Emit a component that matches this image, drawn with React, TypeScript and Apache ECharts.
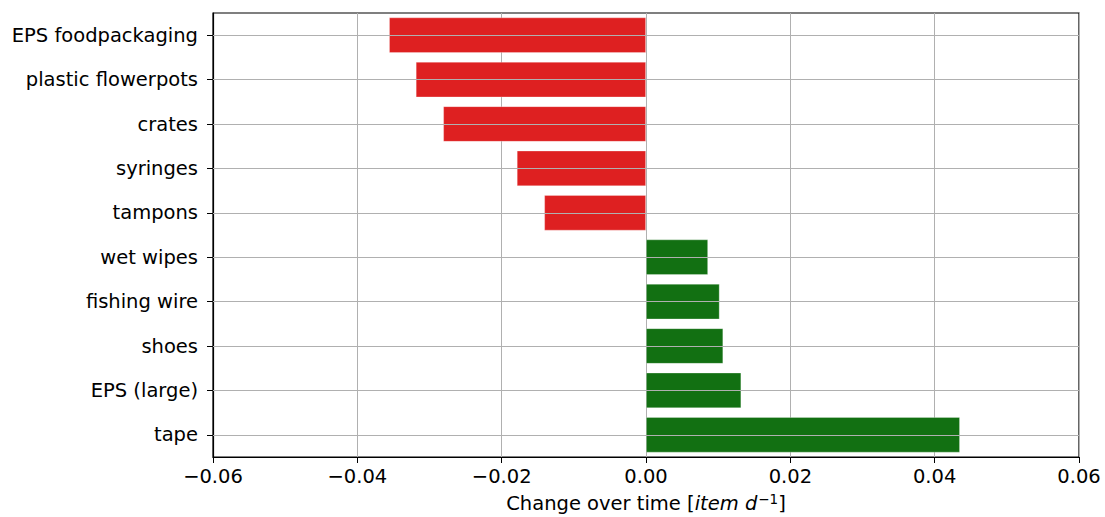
import React, { useEffect, useRef } from "react";
import * as echarts from "echarts";

const categories = [
  "EPS foodpackaging",
  "plastic flowerpots",
  "crates",
  "syringes",
  "tampons",
  "wet wipes",
  "fishing wire",
  "shoes",
  "EPS (large)",
  "tape",
];
const values = [-0.0356, -0.0319, -0.0281, -0.0179, -0.0141, 0.0086, 0.0102, 0.0107, 0.0132, 0.0435];
const xTicks = [-0.06, -0.04, -0.02, 0, 0.02, 0.04, 0.06];

const RED = "#de2021";
const GREEN = "#127012";
const FONT = "DejaVu Sans";
const FS = 19.5;

export default function App() {
  const ref = useRef<HTMLDivElement>(null);
  useEffect(() => {
    if (!ref.current) return;
    const chart = echarts.init(ref.current, null, { renderer: "svg" });
    chart.setOption({
      animation: false,
      grid: {
        left: 213,
        right: 26,
        top: 13,
        bottom: 60,
        outerBoundsMode: "none",
        containLabel: false,
        show: true,
        borderColor: "#000",
        borderWidth: 1.2,
        backgroundColor: "transparent",
      },
      xAxis: {
        type: "value",
        min: xTicks[0],
        max: xTicks[xTicks.length - 1],
        interval: 0.02,
        axisLine: { show: true, onZero: false, lineStyle: { color: "#000", width: 1.2 } },
        axisTick: { show: true, inside: false, length: 6, lineStyle: { color: "#000", width: 1 } },
        splitLine: { show: true, lineStyle: { color: "#b0b0b0", width: 1 } },
        axisLabel: {
          fontFamily: FONT,
          fontSize: FS,
          color: "#000",
          margin: 9,
          formatter: (v: number) => {
            const s = Math.abs(v).toFixed(2);
            return v < -1e-9 ? "\u2212" + s : s;
          },
        },
        name: "{n|Change over time [}{i|item d}{s|\u22121}{n|]}",
        nameLocation: "middle",
        nameGap: 35,
        nameTextStyle: {
          fontFamily: FONT,
          fontSize: FS,
          color: "#000",
          rich: {
            n: { fontFamily: FONT, fontSize: FS, color: "#000" },
            i: { fontFamily: FONT, fontSize: FS, fontStyle: "italic", color: "#000" },
            s: { fontFamily: FONT, fontSize: 13.5, color: "#000", verticalAlign: "top", padding: [0, 0, 9, 1] },
          },
        },
      },
      yAxis: {
        type: "category",
        data: categories,
        inverse: true,
        axisLine: { show: true, onZero: false, lineStyle: { color: "#000", width: 1.2 } },
        axisTick: { show: true, alignWithLabel: true, inside: false, length: 6, lineStyle: { color: "#000" } },
        splitLine: { show: false },
        axisLabel: { fontFamily: FONT, fontSize: FS, color: "#000", margin: 15 },
      },
      series: [
        {
          type: "line",
          data: [],
          z: 1,
          silent: true,
          markLine: {
            silent: true,
            symbol: "none",
            label: { show: false },
            lineStyle: { color: "#b0b0b0", width: 1, type: "solid" },
            data: categories.map((c) => ({ yAxis: c })),
          },
        },
        {
          type: "bar",
          z: 3,
          barCategoryGap: "20%",
          data: values.map((v) => ({
            value: v,
            itemStyle: {
              color: v < 0 ? RED : GREEN,
              borderColor: "rgba(255,255,255,0.35)",
              borderWidth: 0.8,
            },
          })),
        },
      ],
    });
    return () => chart.dispose();
  }, []);
  return (
    <div
      ref={ref}
      style={{ position: "fixed", left: 0, top: 0, width: 1105, height: 517, background: "#fff" }}
    />
  );
}
